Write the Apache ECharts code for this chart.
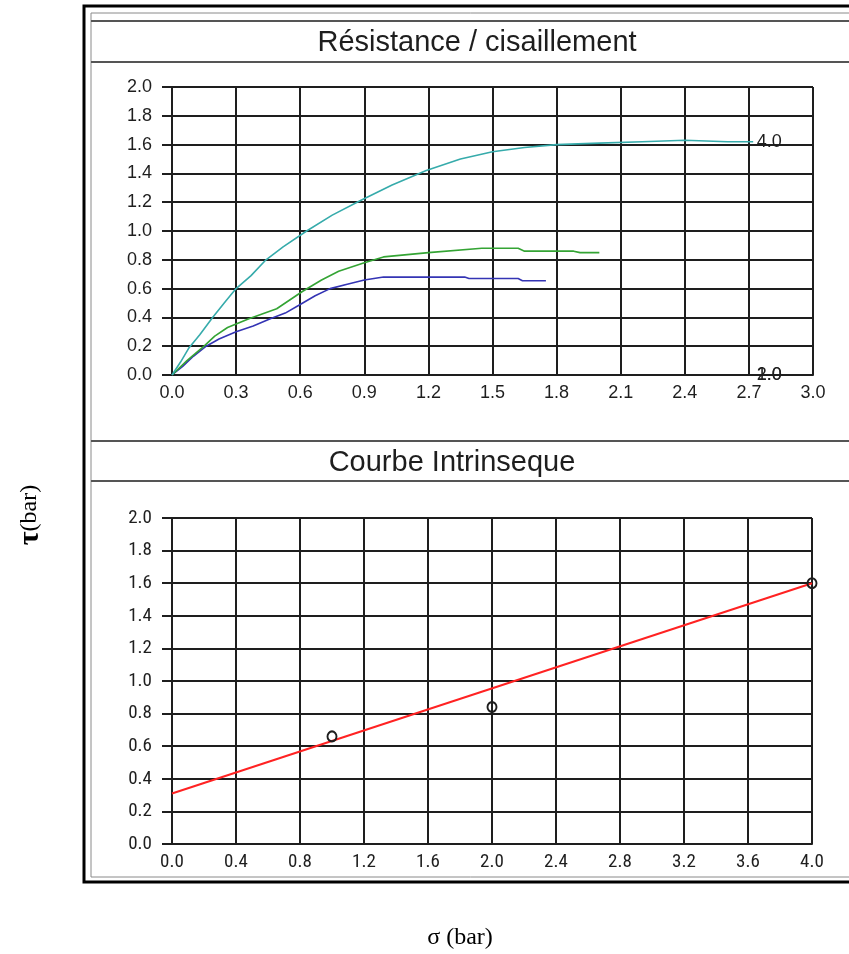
<!DOCTYPE html>
<html>
<head>
<meta charset="utf-8">
<script src="https://cdn.jsdelivr.net/npm/echarts@6/dist/echarts.min.js"></script>
<style>
  html, body { margin: 0; padding: 0; background: #fff; }
  #chart { width: 849px; height: 954px; }
</style>
</head>
<body>
<div id="chart"></div>
<script>
// Shear tests: shear stress τ (bar) against displacement, one curve per normal stress σ
const sigma1Curve = [[0,0],[0.05,0.06],[0.10,0.13],[0.16,0.20],[0.22,0.25],[0.30,0.30],[0.38,0.34],[0.46,0.39],[0.53,0.43],[0.60,0.49],[0.67,0.55],[0.74,0.60],[0.82,0.63],[0.90,0.66],[0.99,0.68],[1.20,0.68],[1.37,0.68],[1.39,0.67],[1.62,0.67],[1.64,0.655],[1.75,0.655]];
const sigma2Curve = [[0,0],[0.07,0.10],[0.15,0.20],[0.20,0.27],[0.26,0.33],[0.36,0.39],[0.49,0.46],[0.61,0.58],[0.70,0.66],[0.78,0.72],[0.90,0.78],[0.99,0.82],[1.20,0.85],[1.45,0.88],[1.62,0.88],[1.65,0.86],[1.88,0.86],[1.91,0.85],[2.00,0.85]];
const sigma4Curve = [[0,0],[0.04,0.09],[0.08,0.19],[0.13,0.28],[0.19,0.40],[0.25,0.51],[0.30,0.60],[0.37,0.69],[0.44,0.80],[0.52,0.89],[0.63,1.00],[0.75,1.11],[0.88,1.21],[1.03,1.32],[1.19,1.42],[1.35,1.50],[1.50,1.55],[1.65,1.58],[1.80,1.60],[2.00,1.61],[2.20,1.62],[2.40,1.63],[2.60,1.62],[2.72,1.62]];

// Curve tags (σ value written at the end of the plot)
const tagNames = ['4.0', '2.0', '1.0'];
const tagPositions = [[2.72, 1.62], [2.72, 0.0], [2.72, 0.0]];

// Intrinsic curve: peak shear per normal stress and fitted line
const peakSigma = [1.0, 2.0, 4.0];
const peakTau = [0.66, 0.84, 1.60];
const fitLine = [[0, 0.31], [4.0, 1.60]];

// Axis ranges
const topX = { min: 0, max: 3.0, step: 0.3 };
const botX = { min: 0, max: 4.0, step: 0.4 };
const yRange = { min: 0, max: 2.0, step: 0.2 };

const ink = '#1e1e1e';
const gridStyle = { color: ink, width: 2 };
const labelFont = "'Liberation Sans', Arial, sans-serif";
const narrowFont = "'Liberation Sans Narrow', 'Roboto Condensed', 'Liberation Sans', sans-serif";

function xAxisCfg(gi, r, font, size) {
  return {
    type: 'value', gridIndex: gi, min: r.min, max: r.max, interval: r.step,
    axisLine: { show: true, lineStyle: gridStyle },
    axisTick: { show: false },
    splitLine: { show: true, lineStyle: gridStyle },
    axisLabel: { color: ink, fontFamily: font, fontSize: size, margin: 9,
      formatter: v => v.toFixed(1) }
  };
}
function yAxisCfg(gi, font, size) {
  return {
    type: 'value', gridIndex: gi, min: yRange.min, max: yRange.max, interval: yRange.step,
    axisLine: { show: true, lineStyle: gridStyle },
    axisTick: { show: true, length: 10, lineStyle: gridStyle },
    splitLine: { show: true, lineStyle: gridStyle },
    axisLabel: { color: ink, fontFamily: font, fontSize: size, margin: 20,
      formatter: v => v.toFixed(1) }
  };
}

const chart = echarts.init(document.getElementById('chart'), null, { renderer: 'canvas' });

const option = {
  animation: false,
  backgroundColor: '#fff',
  grid: [
    { left: 172, top: 87, width: 641, height: 288 },
    { left: 172, top: 518, width: 640, height: 326 }
  ],
  xAxis: [xAxisCfg(0, topX, labelFont, 18), xAxisCfg(1, botX, narrowFont, 19)],
  yAxis: [yAxisCfg(0, labelFont, 18), yAxisCfg(1, narrowFont, 19)],
  series: [
    { type: 'line', xAxisIndex: 0, yAxisIndex: 0, data: sigma1Curve, showSymbol: false,
      lineStyle: { color: '#3434b4', width: 1.6 }, z: 5 },
    { type: 'line', xAxisIndex: 0, yAxisIndex: 0, data: sigma2Curve, showSymbol: false,
      lineStyle: { color: '#34a434', width: 1.6 }, z: 5 },
    { type: 'line', xAxisIndex: 0, yAxisIndex: 0, data: sigma4Curve, showSymbol: false,
      lineStyle: { color: '#36abab', width: 1.6 }, z: 5 },
    { type: 'scatter', xAxisIndex: 0, yAxisIndex: 0, symbolSize: 1, z: 6,
      itemStyle: { opacity: 0 },
      data: tagNames.map((n, i) => ({ name: n, value: tagPositions[i] })),
      label: { show: true, position: 'right', distance: 3, formatter: p => p.name,
        color: ink, opacity: 1, fontFamily: labelFont, fontSize: 18 } },
    { type: 'line', xAxisIndex: 1, yAxisIndex: 1, data: fitLine, showSymbol: false,
      lineStyle: { color: '#ff2222', width: 2 }, z: 5 },
    { type: 'scatter', xAxisIndex: 1, yAxisIndex: 1, z: 6,
      data: peakSigma.map((s, i) => [s, peakTau[i]]),
      symbol: 'circle', symbolSize: [9, 10],
      itemStyle: { color: 'rgba(255,255,255,0)', borderColor: ink, borderWidth: 2, opacity: 1 } }
  ],
  graphic: [
    // outer frame
    { type: 'rect', shape: { x: 84, y: 6, width: 800, height: 876 },
      style: { fill: 'none', stroke: '#000', lineWidth: 3 }, silent: true },
    { type: 'rect', shape: { x: 91, y: 13, width: 790, height: 864 },
      style: { fill: 'none', stroke: '#8a8a8a', lineWidth: 1 }, silent: true },
    // title bars
    { type: 'line', shape: { x1: 91, y1: 21, x2: 849, y2: 21 }, style: { stroke: '#555', lineWidth: 2 } },
    { type: 'line', shape: { x1: 91, y1: 62, x2: 849, y2: 62 }, style: { stroke: '#555', lineWidth: 2 } },
    { type: 'line', shape: { x1: 91, y1: 441, x2: 849, y2: 441 }, style: { stroke: '#555', lineWidth: 2 } },
    { type: 'line', shape: { x1: 91, y1: 481, x2: 849, y2: 481 }, style: { stroke: '#555', lineWidth: 2 } },
    { type: 'text', x: 477, y: 43, style: { text: 'Résistance / cisaillement', fill: ink,
      font: "29px 'Liberation Sans', Arial, sans-serif", textAlign: 'center', textVerticalAlign: 'middle' } },
    { type: 'text', x: 452, y: 463, style: { text: 'Courbe Intrinseque', fill: ink,
      font: "29px 'Liberation Sans', Arial, sans-serif", textAlign: 'center', textVerticalAlign: 'middle' } },
    // axis names
    { type: 'text', x: 30, y: 515, rotation: Math.PI / 2,
      style: { text: '{t|τ}(bar)', fill: '#000', textAlign: 'center', textVerticalAlign: 'middle',
        font: "24px 'Liberation Serif', 'Times New Roman', serif",
        rich: { t: { fontFamily: "'Liberation Serif', serif", fontSize: 30, fontWeight: 'bold', fill: '#000' } } } },
    { type: 'text', x: 460, y: 938, style: { text: 'σ (bar)', fill: '#000', textAlign: 'center',
      textVerticalAlign: 'middle', font: "24px 'Liberation Serif', 'Times New Roman', serif" } }
  ]
};

chart.setOption(option);
</script>
</body>
</html>
